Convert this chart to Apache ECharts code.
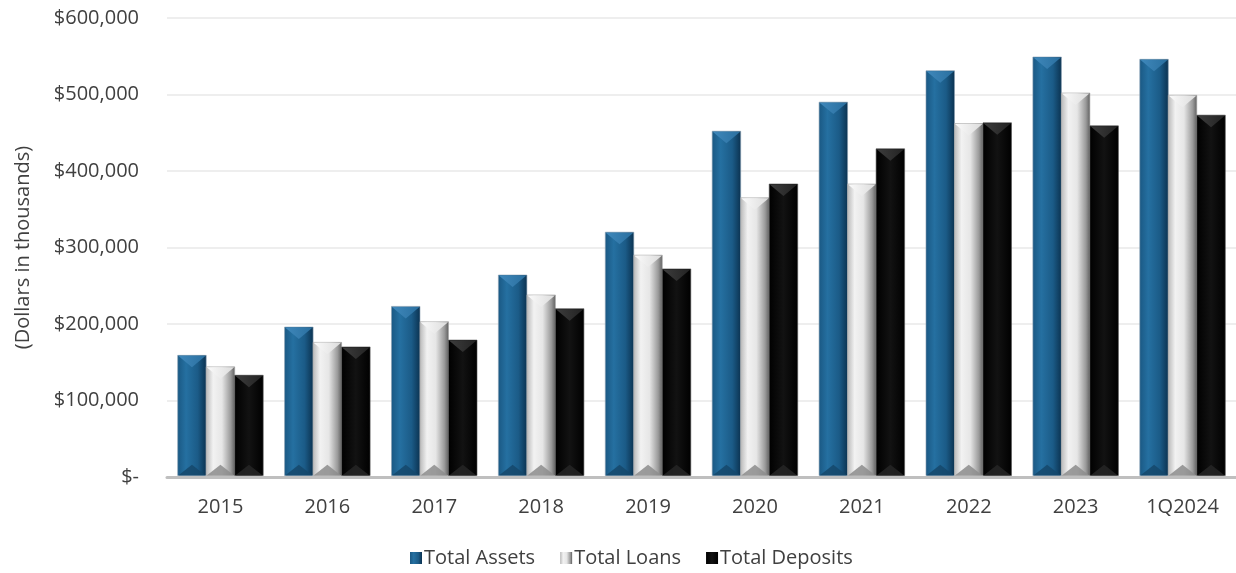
<!DOCTYPE html>
<html><head><meta charset="utf-8">
<script src="https://cdn.jsdelivr.net/npm/echarts@6/dist/echarts.min.js"></script>
<style>html,body{margin:0;padding:0;background:#fff}#c{width:1236px;height:573px}</style>
</head><body><div id="c"></div>
<script>
const categories = ['2015','2016','2017','2018','2019','2020','2021','2022','2023','1Q2024'];
const totalAssets = [159000,196000,223000,264000,320000,452000,490000,531000,549000,546000];
const totalLoans = [144000,176000,203000,238000,290000,365000,383000,462000,502000,499000];
const totalDeposits = [133000,170000,179000,220000,272000,383000,429000,463000,459000,473000];
const seriesNames = ['Total Assets','Total Loans','Total Deposits'];
const yTicks = {min:0, max:600000, interval:100000};

function grad(stops){return new echarts.graphic.LinearGradient(0,0,1,0,stops.map(c=>({offset:c[0],color:c[1]})));}
const styles = [
  {body:[[0,'#1a5883'],[0.3,'#2570a1'],[0.7,'#1b5b87'],[1,'#0b3250']], top:'#3f88bb', topDark:'#2a6f9f', bottom:'#15486b', edge:'#8aa0b2'},
  {body:[[0,'#b8b8b8'],[0.25,'#f2f2f2'],[0.55,'#e6e6e6'],[0.85,'#9a9a9a'],[1,'#5e5e5e']], top:'#fbfbfb', topDark:'#dcdcdc', bottom:'#8c8c8c', edge:'#a8a8a8'},
  {body:[[0,'#000'],[0.5,'#121212'],[1,'#000']], top:'#3d3d3d', topDark:'#222', bottom:'#262626', edge:'#555'}
];
const font = '"Open Sans", "Noto Sans", sans-serif';
const FS = 20;

function makeRender(si){
  const st = styles[si];
  return function(params, api){
    const cat = api.value(0), val = api.value(1);
    const top = api.coord([cat, val]);
    const base = api.coord([cat, 0]);
    const band = api.size([1,0])[0];
    const bw = band*0.8/3;
    const x0 = top[0] - band*0.4 + si*bw;
    const x1 = x0 + bw, xc = x0 + bw/2;
    const y0 = top[1], y1 = base[1] - 1.5;
    const h = y1 - y0;
    const td = Math.min(bw*0.42, h/2), bd = Math.min(bw*0.38, h/2);
    return {type:'group', children:[
      {type:'rect', shape:{x:x0, y:y0, width:bw, height:h},
        style:{fill:grad(st.body), stroke:st.edge, lineWidth:0.6}},
      {type:'polygon', shape:{points:[[x0+0.5,y0+0.5],[x1-0.5,y0+0.5],[xc,y0+td]]},
        style:{fill:new echarts.graphic.LinearGradient(0,0,1,0,[{offset:0,color:st.top},{offset:1,color:st.topDark}])}},
      {type:'polygon', shape:{points:[[x0+0.5,y1],[x1-0.5,y1],[xc,y1-bd]]},
        style:{fill:st.bottom, opacity:0.85}}
    ]};
  };
}

const dataSets = [totalAssets, totalLoans, totalDeposits];
const chart = echarts.init(document.getElementById('c'));
chart.setOption({
  animation:false,
  textStyle:{fontFamily:font},
  grid:{left:167, right:0, top:18, bottom:96, containLabel:false},
  legend:{bottom:0, left:405, itemWidth:12, itemHeight:12, itemGap:25,
    icon:'rect', textStyle:{fontSize:FS, color:'#404040', fontFamily:font, padding:[0,0,0,-3]},
    data:seriesNames},
  xAxis:{type:'category', data:categories,
    axisLine:{lineStyle:{color:'#bfbfbf', width:3}}, axisTick:{show:false},
    axisLabel:{fontSize:FS, color:'#404040', margin:20, fontFamily:font}},
  yAxis:{type:'value', min:yTicks.min, max:yTicks.max, interval:yTicks.interval,
    name:'(Dollars in thousands)', nameLocation:'middle', nameGap:134, nameRotate:90,
    nameTextStyle:{fontSize:FS, color:'#404040', fontFamily:font},
    axisLine:{show:false}, axisTick:{show:false},
    splitLine:{lineStyle:{color:'#e8e8e8', width:1.5}},
    axisLabel:{fontSize:FS, color:'#404040', margin:28, fontFamily:font,
      formatter:v=> v===0 ? '$-' : '$' + v.toLocaleString('en-US')}},
  series: seriesNames.map((name, si)=>({
    name, type:'custom', renderItem:makeRender(si),
    data: dataSets[si].map((v,i)=>[i,v]), encode:{x:0, y:1},
    itemStyle:{color:grad(styles[si].body)}, z:2
  }))
});
</script></body></html>
